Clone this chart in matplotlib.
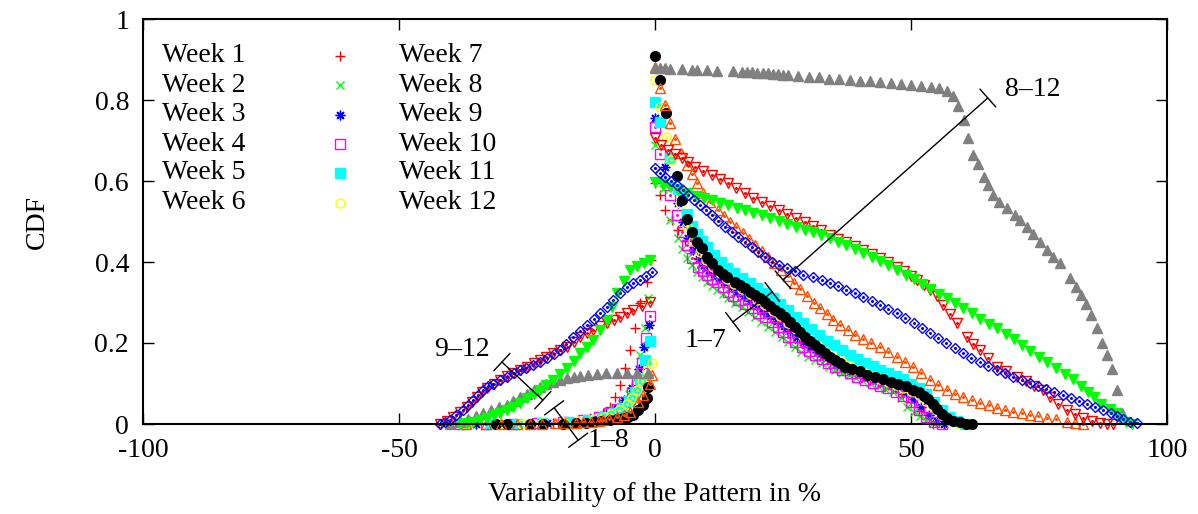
import matplotlib
matplotlib.use("Agg")
import matplotlib.pyplot as plt

plt.rcParams["font.family"] = ["Liberation Serif", "DejaVu Serif"]
plt.rcParams["font.size"] = 20
plt.rcParams["axes.unicode_minus"] = False

# ---- data: negative side (CDF) and positive side (1 - CDF)
w1_neg_x = [-38, -33, -28, -24, -20, -16, -12.7, -10.2, -8.8, -7.8, -6.8, -5.9, -4.9, -3.9, -2.9, -1.6, -0.8]
w1_neg_y = [0, 0, 0, 0, 0.002, 0.005, 0.015, 0.027, 0.042, 0.067, 0.096, 0.138, 0.183, 0.237, 0.30, 0.35, 0.405]
w1_pos_x = [0, 1, 2, 3.3, 4.5, 5.9, 7, 8.2, 9.4, 10.6, 11.8, 13, 14.3, 15.6, 17, 18.4, 19.8, 21.2, 22.6, 24,
            25.4, 26.8, 28.2, 29.6, 31, 32.4, 33.8, 35.2, 36.6, 38, 39.5, 41, 42.5, 44, 45.5, 47, 48.5, 50,
            51.5, 53, 54.3]
w1_pos_y = [0.595, 0.565, 0.528, 0.504, 0.478, 0.452, 0.43, 0.41, 0.393, 0.38, 0.368, 0.356, 0.344, 0.333,
            0.321, 0.308, 0.295, 0.282, 0.268, 0.255, 0.241, 0.227, 0.213, 0.2, 0.187, 0.175, 0.164, 0.154,
            0.145, 0.136, 0.128, 0.12, 0.112, 0.104, 0.096, 0.088, 0.075, 0.055, 0.032, 0.012, 0]

w2_neg_x = [-36, -28, -22, -17, -13, -10, -8, -6.5, -5, -4, -3, -2, -1.4]
w2_neg_y = [0, 0, 0.002, 0.005, 0.012, 0.022, 0.035, 0.05, 0.075, 0.11, 0.17, 0.237, 0.311]
w2_pos_x = [0, 1.5, 2.9, 4.5, 5.3, 6.2, 7.2, 8.2, 9.2, 10.2, 11.1, 12.1, 13.2, 14.3, 15.6, 17, 18.2, 19.5,
            20.8, 22.1, 23.5, 24.8, 26, 27.3, 28.6, 29.9, 31.2, 32.6, 33.9, 35.2, 36.5, 37.8, 39.2, 40.5, 42,
            43.5, 45, 46.5, 48, 49.2, 50.5, 51.8, 53, 54.3]
w2_pos_y = [0.689, 0.58, 0.504, 0.459, 0.432, 0.41, 0.392, 0.375, 0.362, 0.35, 0.34, 0.331, 0.321, 0.311,
            0.3, 0.289, 0.277, 0.264, 0.252, 0.24, 0.228, 0.215, 0.202, 0.19, 0.177, 0.165, 0.157, 0.15,
            0.141, 0.133, 0.127, 0.121, 0.114, 0.108, 0.101, 0.094, 0.087, 0.078, 0.064, 0.042, 0.03, 0.02,
            0.01, 0.003]

w3_neg_x = [-35, -27, -21, -16, -12, -9.5, -7.5, -6, -4.5, -3.2, -2.2, -1.2]
w3_neg_y = [0, 0, 0.002, 0.006, 0.014, 0.025, 0.04, 0.06, 0.09, 0.135, 0.19, 0.245]
w3_pos_x = [0, 2, 4.5, 5.5, 6.5, 7.5, 8.5, 9.5, 10.5, 11.5, 12.5, 13.5, 14.8, 16, 17.3, 18.6, 19.9, 21.2,
            22.5, 23.8, 25.1, 26.4, 27.7, 29, 30.3, 31.6, 32.9, 34.2, 35.5, 37, 38.5, 40, 41.5, 43, 44.5, 46,
            47.5, 49, 50.5, 52, 53.5, 55, 56.5]
w3_pos_y = [0.755, 0.635, 0.546, 0.5, 0.46, 0.43, 0.408, 0.392, 0.38, 0.37, 0.36, 0.35, 0.338, 0.327,
            0.315, 0.303, 0.291, 0.279, 0.267, 0.255, 0.242, 0.229, 0.216, 0.203, 0.19, 0.178, 0.167, 0.157,
            0.148, 0.139, 0.131, 0.124, 0.117, 0.11, 0.103, 0.096, 0.088, 0.078, 0.062, 0.042, 0.022, 0.008, 0]

w4_neg_x = [-38, -33, -28, -23, -18, -14, -11, -9, -7.5, -6, -4.5, -3.5, -2.5, -1.8, -0.9]
w4_neg_y = [0, 0, 0, 0.002, 0.005, 0.01, 0.017, 0.026, 0.038, 0.055, 0.08, 0.105, 0.15, 0.212, 0.267]
w4_pos_x = [0, 1, 2.9, 4.3, 5.3, 6.2, 7.3, 8.4, 9.3, 10.2, 11.2, 12.1, 13.2, 14.3, 15.2, 16.2, 17.5, 18.9,
            20.2, 21.5, 22.8, 24, 25, 26, 27.4, 28.7, 30, 31.3, 32.6, 33.8, 35.2, 36.5, 38, 39.5, 41, 42.5,
            44, 45.5, 47, 48.5, 50, 51.5, 53, 54.5, 56]
w4_pos_y = [0.733, 0.667, 0.565, 0.516, 0.475, 0.442, 0.41, 0.388, 0.377, 0.368, 0.359, 0.35, 0.338, 0.326,
            0.316, 0.306, 0.296, 0.286, 0.275, 0.264, 0.252, 0.24, 0.228, 0.215, 0.202, 0.19, 0.18, 0.17,
            0.16, 0.15, 0.141, 0.133, 0.125, 0.117, 0.109, 0.102, 0.095, 0.088, 0.08, 0.07, 0.055, 0.035,
            0.017, 0.006, 0]

w5_neg_x = [-37, -32, -27, -22, -17, -13, -10, -8, -6.5, -5, -4, -3, -2, -0.9]
w5_neg_y = [0, 0, 0, 0.002, 0.005, 0.01, 0.018, 0.028, 0.04, 0.058, 0.08, 0.11, 0.158, 0.205]
w5_pos_x = [0, 1, 2.9, 4.5, 6.2, 7.2, 8.2, 9.2, 10.2, 11.5, 12.8, 14.1, 15.5, 17, 18.5, 20, 21.5, 23, 24.5,
            26, 27.5, 29, 30.5, 32, 33.5, 35, 36.5, 38, 39.5, 41, 42.5, 44, 45.5, 47, 48.5, 50, 51.5, 53,
            54.5, 56, 57.5, 59, 60.5]
w5_pos_y = [0.795, 0.745, 0.657, 0.58, 0.518, 0.49, 0.47, 0.452, 0.436, 0.418, 0.4, 0.385, 0.372, 0.36,
            0.348, 0.336, 0.323, 0.31, 0.296, 0.282, 0.265, 0.25, 0.234, 0.22, 0.206, 0.194, 0.182, 0.17,
            0.16, 0.15, 0.142, 0.134, 0.126, 0.118, 0.11, 0.1, 0.088, 0.073, 0.055, 0.035, 0.018, 0.007, 0]

w6_neg_x = [-37, -30, -26, -22, -18, -15, -12, -10, -8.5, -7, -5.5, -4.5, -3.5, -2.5, -1.5, -0.6]
w6_neg_y = [0, 0, 0, 0.002, 0.004, 0.007, 0.012, 0.018, 0.025, 0.035, 0.05, 0.065, 0.085, 0.105, 0.13, 0.151]
w6_pos_x = [0, 1, 2.1, 3.1, 4.9, 6.2, 7.5, 8.8, 10, 11.3, 12.6, 14, 15.5, 17, 18.5, 20, 21.5, 23, 24.5, 26,
            27.5, 29, 30.5, 32, 33.5, 35, 36.5, 38, 39.5, 41, 42.5, 44, 45.5, 47, 48.5, 50, 51.5, 53, 54.5,
            56, 57.5, 59, 60.5]
w6_pos_y = [0.849, 0.783, 0.709, 0.652, 0.546, 0.49, 0.452, 0.425, 0.405, 0.387, 0.372, 0.358, 0.345, 0.333,
            0.32, 0.307, 0.294, 0.28, 0.266, 0.25, 0.234, 0.218, 0.203, 0.19, 0.176, 0.163, 0.152, 0.142,
            0.134, 0.126, 0.118, 0.111, 0.104, 0.097, 0.09, 0.082, 0.072, 0.058, 0.04, 0.022, 0.01, 0.003, 0]

w7_neg_x = [-31, -28.9, -24.4, -21.9, -18, -15.5, -13.5, -12, -10.5, -8.8, -7.5, -6.2, -5.2, -4.3, -3.3,
            -2.3, -1.6, -1.4]
w7_neg_y = [0, 0, 0, 0, 0, 0.002, 0.003, 0.005, 0.007, 0.01, 0.012, 0.015, 0.018, 0.022, 0.035, 0.047,
            0.064, 0.091]
w7_pos_x = [0, 1, 2.1, 4.2, 5.2, 6.2, 7.2, 8.2, 9.2, 10.2, 11.1, 12.3, 13.2, 14.1, 15.6, 16.6, 17.6, 18.6,
            19.5, 20.5, 21.5, 22.4, 23.4, 24.4, 25.4, 26.3, 27.3, 28.3, 29.3, 30.3, 31.3, 32.2, 33.2, 34.2,
            35.2, 36.2, 37.1, 38.5, 40, 41.5, 43, 44.5, 46, 47.5, 49, 50.4, 51.5, 52.5, 53.3, 54.2, 55.1, 56,
            57, 58.2, 59.5, 60.8, 62]
w7_pos_y = [0.909, 0.849, 0.768, 0.612, 0.553, 0.506, 0.474, 0.45, 0.434, 0.413, 0.397, 0.38, 0.37, 0.362,
            0.35, 0.342, 0.335, 0.327, 0.318, 0.31, 0.301, 0.292, 0.282, 0.273, 0.264, 0.252, 0.24, 0.228,
            0.215, 0.205, 0.195, 0.186, 0.175, 0.166, 0.158, 0.15, 0.141, 0.135, 0.13, 0.122, 0.116, 0.11,
            0.104, 0.099, 0.093, 0.085, 0.078, 0.07, 0.061, 0.05, 0.036, 0.025, 0.015, 0.008, 0.004, 0.001, 0]

w8_neg_x = [-37, -33, -30, -27, -24.5, -22, -19.5, -17.5, -15.5, -14, -12.5, -11, -10.2, -9, -7.4, -6,
            -4.9, -3.3, -2.3, -1, -0.5]
w8_neg_y = [0, 0, 0, 0, 0, 0.001, 0.002, 0.002, 0.003, 0.004, 0.006, 0.008, 0.01, 0.013, 0.017, 0.023,
            0.03, 0.054, 0.072, 0.1, 0.12]
w8_pos_x = [0, 1, 2, 2.9, 4, 5.1, 6.2, 7.2, 8.2, 9.4, 10.7, 12.3, 13.5, 14.7, 15.9, 17.2, 18.4, 19.6, 20.9,
            22.1, 23.3, 24.6, 25.9, 27.1, 28.4, 29.7, 31, 32.2, 33.5, 34.8, 36.2, 37.6, 39, 40.6, 42.2, 43.9,
            45.6, 47.3, 48.9, 50.4, 52, 53.7, 55.3, 57, 58.6, 60.2, 61.9, 63.5, 65.2, 66.8, 68.4, 70, 71.6,
            73.2, 74.9, 76.6, 78.4, 80.4, 82, 83.6]
w8_pos_y = [0.881, 0.83, 0.788, 0.743, 0.704, 0.67, 0.64, 0.617, 0.595, 0.57, 0.548, 0.528, 0.514, 0.5,
            0.487, 0.472, 0.458, 0.442, 0.427, 0.412, 0.397, 0.381, 0.365, 0.349, 0.333, 0.316, 0.3, 0.286,
            0.272, 0.258, 0.244, 0.232, 0.22, 0.21, 0.2, 0.19, 0.178, 0.165, 0.153, 0.141, 0.125, 0.109,
            0.096, 0.084, 0.075, 0.067, 0.059, 0.052, 0.046, 0.04, 0.035, 0.03, 0.026, 0.022, 0.019, 0.016,
            0.012, 0.006, 0.003, 0]

w9_neg_x = [-40, -38, -36.5, -35, -33.6, -32, -30.5, -29, -27.7, -26.3, -25, -23.7, -22.5, -21.2, -19.9,
            -18.5, -17.2, -15.9, -14.6, -13, -11.3, -9.5, -7.4, -5.5, -3.5, -1.4]
w9_neg_y = [0, 0.005, 0.012, 0.02, 0.027, 0.035, 0.041, 0.048, 0.057, 0.066, 0.075, 0.084, 0.091, 0.098,
            0.104, 0.109, 0.113, 0.116, 0.118, 0.121, 0.123, 0.125, 0.126, 0.127, 0.127, 0.125]
w9_pos_x = [0, 1, 2, 3, 5.3, 7.2, 8.2, 10.2, 12.1, 15.2, 17, 18, 19, 20, 21, 22, 23, 24, 25, 26, 28, 30,
            32, 34, 36, 38, 40, 42, 44, 46, 48, 50, 52, 54, 55.5, 57, 58.2, 59.1, 60.4, 61.2, 62.1, 63.1,
            64.3, 65.1, 66.1, 67.1, 68.7, 70.3, 71.3, 72.6, 73.9, 75.2, 76.5, 77.8, 79.1, 81.1, 82.2, 83.2,
            84.2, 85.2, 86.3, 87.3, 88.2, 89.3, 90.2, 91.2]
w9_pos_y = [0.88, 0.879, 0.878, 0.877, 0.876, 0.875, 0.875, 0.873, 0.872, 0.871, 0.87, 0.869, 0.868, 0.867,
            0.866, 0.866, 0.864, 0.863, 0.862, 0.861, 0.859, 0.857, 0.856, 0.853, 0.851, 0.85, 0.848, 0.846,
            0.844, 0.842, 0.84, 0.837, 0.835, 0.832, 0.829, 0.822, 0.81, 0.785, 0.75, 0.706, 0.664, 0.642,
            0.61, 0.59, 0.565, 0.548, 0.533, 0.516, 0.504, 0.487, 0.47, 0.45, 0.43, 0.413, 0.397, 0.36,
            0.338, 0.318, 0.296, 0.27, 0.237, 0.2, 0.17, 0.136, 0.084, 0.027]

w10_neg_x = [-42, -40.7, -39.4, -38, -36.7, -35.7, -34.8, -33.8, -32.8, -31.5, -30.3, -29, -27.7, -26.3,
             -25, -23.7, -22.5, -21.2, -19.9, -18.5, -17.2, -15.9, -14.6, -13.3, -12.1, -10.7, -9.4, -8.1,
             -6.8, -5.5, -4.3, -2.6, -1]
w10_neg_y = [0, 0.008, 0.018, 0.03, 0.042, 0.055, 0.067, 0.078, 0.089, 0.099, 0.109, 0.118, 0.126, 0.134,
             0.141, 0.15, 0.158, 0.166, 0.175, 0.182, 0.19, 0.203, 0.215, 0.224, 0.232, 0.241, 0.249, 0.257,
             0.264, 0.273, 0.282, 0.292, 0.301]
w10_pos_x = [0, 1.2, 2.5, 3.9, 5.3, 6.5, 7.8, 9.4, 11.1, 12.7, 14.3, 15.9, 17.6, 19.2, 20.9, 22.5, 24.2,
             25.8, 27.5, 29.2, 30.8, 32.5, 34.2, 35.8, 37.4, 39, 40.6, 42.3, 44, 45.6, 47.3, 48.6, 50, 51.2,
             52.5, 53.7, 55, 56.3, 57.6, 59, 60.9, 62.2, 63.5, 65.1, 66.8, 68.5, 70.7, 72.5, 74, 75.8, 77.1,
             78.8, 80.4, 82, 83.6, 85.3, 86.9, 88.2, 89.5]
w10_pos_y = [0.706, 0.69, 0.677, 0.667, 0.657, 0.646, 0.635, 0.625, 0.615, 0.605, 0.595, 0.583, 0.57, 0.559,
             0.548, 0.538, 0.528, 0.518, 0.508, 0.498, 0.488, 0.478, 0.467, 0.458, 0.449, 0.44, 0.43, 0.42,
             0.41, 0.399, 0.388, 0.378, 0.366, 0.356, 0.343, 0.33, 0.315, 0.294, 0.272, 0.25, 0.215, 0.198,
             0.183, 0.162, 0.141, 0.13, 0.116, 0.106, 0.095, 0.084, 0.067, 0.05, 0.035, 0.024, 0.015, 0.007,
             0.002, 0.001, 0]

w11_neg_x = [-38, -36.7, -35.5, -34.2, -32.8, -31.5, -30.3, -29, -27.7, -26.3, -25, -23.7, -22.5, -21.2,
             -19.9, -18.5, -17.2, -15.9, -14.6, -13.3, -12.1, -10.7, -9.4, -8.4, -7.4, -6.1, -4.9, -3.5,
             -2.2, -1]
w11_neg_y = [0, 0.002, 0.005, 0.01, 0.015, 0.021, 0.027, 0.034, 0.042, 0.053, 0.064, 0.074, 0.084, 0.096,
             0.109, 0.123, 0.138, 0.156, 0.175, 0.191, 0.207, 0.232, 0.257, 0.29, 0.323, 0.353, 0.38, 0.39,
             0.398, 0.405]
w11_pos_x = [0, 1.5, 3, 4.5, 6.2, 8, 9.6, 11.1, 12.7, 14.3, 16, 17.6, 19.2, 20.9, 22.5, 24.2, 25.8, 27.5,
             29.2, 30.8, 32.5, 34.2, 35.8, 37.4, 39, 40.6, 42.3, 44, 45.6, 47.3, 49, 50.6, 52.2, 53.7, 55.4,
             57, 58.6, 60.2, 61.9, 63.5, 65.2, 66.8, 68.5, 70.1, 71.7, 73.3, 75, 76.6, 78.3, 80, 81.6, 83.2,
             84.6, 85.8, 87.2, 88.9, 90, 90.8, 92, 93.2]
w11_pos_y = [0.598, 0.592, 0.585, 0.578, 0.571, 0.564, 0.558, 0.552, 0.546, 0.54, 0.534, 0.528, 0.522,
             0.515, 0.508, 0.501, 0.494, 0.487, 0.48, 0.473, 0.466, 0.459, 0.45, 0.441, 0.432, 0.422, 0.413,
             0.403, 0.392, 0.381, 0.369, 0.357, 0.345, 0.333, 0.321, 0.31, 0.298, 0.286, 0.273, 0.26, 0.247,
             0.236, 0.222, 0.209, 0.195, 0.181, 0.166, 0.152, 0.138, 0.124, 0.11, 0.095, 0.08, 0.066, 0.05,
             0.038, 0.026, 0.015, 0.006, 0]

w12_neg_x = [-42, -41, -40, -38.8, -37.5, -36.5, -35.5, -34.5, -33.6, -32.6, -31.6, -30.2, -28.9, -27.6,
             -26.4, -25.1, -23.8, -22.4, -21.1, -19.8, -18.6, -17.3, -16, -14.6, -13.3, -12, -10.7, -9.4,
             -8.2, -6.8, -5.5, -4.2, -2.9, -1.7, -0.6]
w12_neg_y = [0, 0.004, 0.01, 0.022, 0.035, 0.048, 0.06, 0.072, 0.084, 0.093, 0.1, 0.109, 0.117, 0.125,
             0.133, 0.139, 0.145, 0.153, 0.162, 0.172, 0.183, 0.198, 0.215, 0.23, 0.245, 0.259, 0.273, 0.29,
             0.306, 0.323, 0.339, 0.347, 0.356, 0.366, 0.376]
w12_pos_x = [0, 1, 2, 3.2, 4.3, 5.4, 6.4, 7.6, 8.8, 10, 11.1, 12.4, 13.7, 15, 16.3, 17.6, 18.9, 20.2, 21.5,
             22.9, 24.3, 25.8, 27.3, 29, 30.8, 32.6, 34.2, 35.8, 37.4, 39, 40.6, 42.3, 44, 45.6, 47.3, 48.9,
             50.5, 52.1, 53.7, 55.3, 56.9, 58.5, 60.2, 61.8, 63.4, 65.1, 66.8, 68.4, 70, 71.6, 73.2, 74.8,
             76.4, 78, 79.6, 81.2, 82.8, 84.4, 86, 87.5, 89, 90.2, 91.5, 92.8, 94.1]
w12_pos_y = [0.632, 0.62, 0.61, 0.6, 0.59, 0.578, 0.565, 0.553, 0.54, 0.528, 0.516, 0.502, 0.486, 0.474,
             0.462, 0.449, 0.437, 0.424, 0.412, 0.4, 0.392, 0.385, 0.378, 0.369, 0.362, 0.355, 0.348, 0.34,
             0.331, 0.323, 0.314, 0.304, 0.294, 0.284, 0.274, 0.262, 0.25, 0.237, 0.225, 0.212, 0.2, 0.188,
             0.175, 0.164, 0.153, 0.143, 0.133, 0.125, 0.117, 0.109, 0.101, 0.094, 0.087, 0.08, 0.072, 0.065,
             0.057, 0.05, 0.042, 0.035, 0.027, 0.02, 0.012, 0.006, 0.002]

labels = ["Week %d" % i for i in range(1, 13)]
neg_x = [w1_neg_x, w2_neg_x, w3_neg_x, w4_neg_x, w5_neg_x, w6_neg_x,
         w7_neg_x, w8_neg_x, w9_neg_x, w10_neg_x, w11_neg_x, w12_neg_x]
neg_y = [w1_neg_y, w2_neg_y, w3_neg_y, w4_neg_y, w5_neg_y, w6_neg_y,
         w7_neg_y, w8_neg_y, w9_neg_y, w10_neg_y, w11_neg_y, w12_neg_y]
pos_x = [w1_pos_x, w2_pos_x, w3_pos_x, w4_pos_x, w5_pos_x, w6_pos_x,
         w7_pos_x, w8_pos_x, w9_pos_x, w10_pos_x, w11_pos_x, w12_pos_x]
pos_y = [w1_pos_y, w2_pos_y, w3_pos_y, w4_pos_y, w5_pos_y, w6_pos_y,
         w7_pos_y, w8_pos_y, w9_pos_y, w10_pos_y, w11_pos_y, w12_pos_y]

# gnuplot postscript point types 1..12 and line colours
colors = ["#ff0000", "#00ff00", "#0000ff", "#ff00ff", "#00ffff", "#ffff00",
          "#000000", "#ff4d00", "#808080", "#ff0000", "#00ff00", "#0000ff"]
markers = ["+", "x", (8, 2, 0), "s", "s", "o", "o", "^", "^", "v", "v", "D"]
filled = [True, True, True, False, True, False, True, False, True, False, True, False]
sizes = [7, 6, 7, 6.5, 6.5, 6.5, 7, 7, 7, 7, 7, 5.5]


def style(i):
    kw = dict(linestyle="none", marker=markers[i], ms=sizes[i], color=colors[i],
              mew=1.0, clip_on=False)
    if not filled[i]:
        kw["mfc"] = "none"
    else:
        kw["mec"] = colors[i]
    return kw


fig = plt.figure(figsize=(11.98, 5.14), dpi=100)
ax = fig.add_axes([143 / 1198, 90 / 514, 1024 / 1198, 405 / 514])

for i in range(12):
    for xs, ys in ((neg_x[i], neg_y[i]), (pos_x[i], pos_y[i])):
        ax.plot(xs, ys, **style(i))
        if not filled[i]:
            ax.plot(xs, ys, linestyle="none", marker="o", ms=1.2, color=colors[i], clip_on=False)

# legend drawn by hand, gnuplot style (text left, sample right)
row_y = [0.909, 0.837, 0.763, 0.691, 0.62, 0.546]
col_text = [0.0186, 0.25]
for i, lab in enumerate(labels):
    c, r = divmod(i, 6)
    ax.text(col_text[c], row_y[r], lab, transform=ax.transAxes, ha="left", va="center")
    if c == 0:
        ax.plot([0.192], [row_y[r]], transform=ax.transAxes, **style(i))

# bracket annotations
brackets = [((25.0, 0.356), (65.0, 0.805)), ((15.2, 0.252), (22.9, 0.326)),
            ((-29.9, 0.153), (-21.9, 0.059)), ((-19.7, 0.04), (-15.0, -0.04))]
for a, b in brackets:
    ax.annotate("", xy=b, xytext=a, annotation_clip=False,
                arrowprops=dict(arrowstyle="|-|,widthA=0.45,widthB=0.45", lw=1.0,
                                color="black", shrinkA=0, shrinkB=0, mutation_scale=19))
ax.text(68.4, 0.825, "8\u201312", ha="left", va="center")
ax.text(13.9, 0.207, "1\u20137", ha="right", va="center")
ax.text(-32.2, 0.183, "9\u201312", ha="right", va="center")
ax.text(-13.1, -0.04, "1\u20138", ha="left", va="center")

ax.set_xlim(-100, 100)
ax.set_ylim(0, 1)
ax.set_xticks([-100, -50, 0, 50, 100])
ax.set_yticks([0, 0.2, 0.4, 0.6, 0.8, 1])
ax.set_yticklabels(["0", "0.2", "0.4", "0.6", "0.8", "1"])
ax.tick_params(direction="in", length=8, width=1, top=True, right=True, pad=10)
for s in ax.spines.values():
    s.set_linewidth(1.5)
ax.set_xlabel("Variability of the Pattern in %", labelpad=14)
ax.set_ylabel("CDF", labelpad=32)

fig.savefig("out.png", dpi=100)
